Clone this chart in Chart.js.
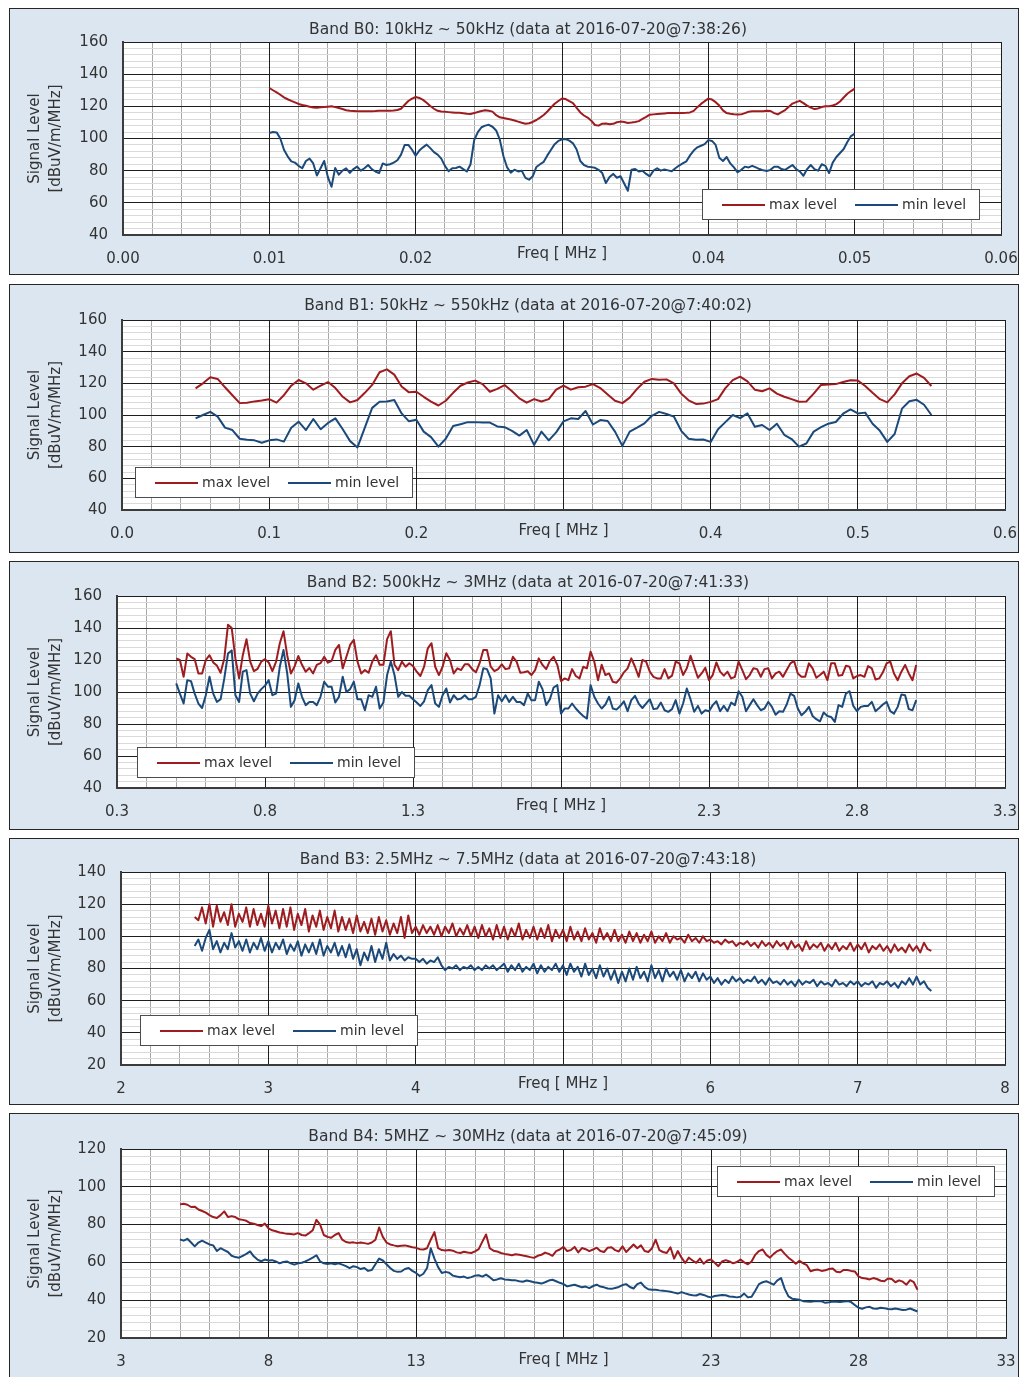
<!DOCTYPE html>
<html>
<head>
<meta charset="utf-8">
<script src="https://cdn.jsdelivr.net/npm/chart.js@4.4.1/dist/chart.umd.min.js"></script>
<style>
  body { margin: 0; background: #fff; width: 1019px; height: 1377px; overflow: hidden; position: relative; }
  .panel { position: absolute; left: 9px; width: 1008px; border: 1px solid #262626; background: #dce6f1; }
  .panel canvas { display: block; }
</style>
</head>
<body>
<div class="panel" style="top:8px;height:265px"><canvas id="bandB0" width="1008" height="265"></canvas></div>
<div class="panel" style="top:284px;height:267px"><canvas id="bandB1" width="1008" height="267"></canvas></div>
<div class="panel" style="top:561px;height:267px"><canvas id="bandB2" width="1008" height="267"></canvas></div>
<div class="panel" style="top:838px;height:265px"><canvas id="bandB3" width="1008" height="265"></canvas></div>
<div class="panel" style="top:1113px;height:265px"><canvas id="bandB4" width="1008" height="265"></canvas></div>

<script>
// Field strength sweeps, signal level in dBuV/m/MHz, one sample per sweep step

// Band B0: 10kHz ~ 50kHz
const b0Title = "Band B0: 10kHz ~ 50kHz (data at 2016-07-20@7:38:26)"
const b0Start = 0.01
const b0Step = 0.00025
const b0Max = [
  131.4, 130, 128.7, 127.2, 125.6, 124.4, 123.4, 122.5, 121.5, 120.8,
  120.3, 119.8, 119.3, 119.1, 119.4, 119.6, 119.8, 120, 119.5, 119,
  118.3, 117.6, 117.3, 117.1, 116.9, 116.9, 116.9, 116.9, 117, 117.1,
  117.3, 117.3, 117.3, 117.3, 117.4, 117.7, 118.5, 121, 123.3, 124.8,
  125.8, 125.2, 124, 122.2, 120.2, 118.5, 117.2, 116.8, 116.6, 116.4,
  116.2, 116, 116, 115.7, 115.4, 115.2, 115.8, 116.5, 117.1, 117.5,
  117.2, 116.7, 114.5, 113.2, 112.8, 112.3, 111.8, 111.2, 110.5, 109.8,
  109.2, 109.5, 110.3, 111.5, 113, 114.6, 116.8, 119.3, 121.6, 123.3,
  124.9, 124.5, 123.2, 122, 119.1, 116.2, 114.3, 113, 111.1, 108.4,
  108, 109.2, 109.3, 108.8, 109.1, 110.1, 110.5, 110.2, 109.7, 109.9,
  110.3, 110.8, 112.2, 113.4, 114.8, 115, 115.2, 115.4, 115.6, 115.8,
  115.9, 115.9, 115.9, 115.9, 116, 116.2, 117.2, 119.5, 121.5, 123.2,
  124.8, 124.2, 122.6, 120.5, 117.5, 115.8, 115.4, 115.1, 114.9, 115,
  115.8, 116.6, 116.9, 116.9, 116.9, 117, 117.3, 117.1, 115.8, 115,
  116.4, 117.7, 119.8, 121.7, 122.6, 123.4, 122, 120.4, 119.2, 118.3,
  118.7, 119.6, 120, 120, 120.5, 121.4, 123, 125.5, 127.8, 129.5,
  131,
]
const b0Min = [
  103.4, 104, 103.8, 100, 93, 88.9, 85.8, 85, 83, 81.5,
  86, 87.5, 84.5, 77, 81.5, 86, 76, 70, 81.7, 77.5,
  80, 81.5, 78.6, 81, 82.5, 80, 81.5, 83.5, 81, 79.5,
  78.5, 84.5, 83.5, 84, 85, 86.5, 90, 96, 96, 93,
  89.3, 92.5, 94.5, 96.2, 94, 91.5, 90, 87.5, 83, 79.6,
  81.5, 81.7, 82.5, 81, 79.5, 84, 99, 104, 107, 108,
  108.5, 107.3, 105, 99.3, 89, 82, 78.8, 80.6, 79.5, 80,
  75.5, 74.4, 76.5, 82.3, 84, 85.5, 89.5, 93, 96.5, 98.5,
  99.5, 99.7, 98.7, 97, 93.2, 86, 83.5, 82.5, 82.2, 81.8,
  80.5, 78.5, 72.3, 76, 78, 75.6, 76.5, 72, 67.5, 80.6,
  81, 79.5, 80, 78, 76.5, 80, 81.5, 80, 80.8, 80.2,
  79.6, 81.5, 83.2, 84.5, 85.8, 89.5, 92.5, 94.5, 95.5, 96.5,
  99, 98.5, 96, 88, 86, 88.5, 84.5, 82, 79, 80.5,
  82.5, 82, 83, 82, 81, 80.2, 79.8, 80.5, 82.5, 82.5,
  81, 80.5, 82, 83.5, 81, 79.5, 76.8, 81, 83.5, 81,
  80, 84, 83, 78.5, 85, 88.5, 91, 93.5, 97.8, 101.5,
  103,
]
const b0XLabels = ["0.00", "0.01", "0.02", "", "0.04", "0.05", "0.06"]
const b0YLabels = ["40", "60", "80", "100", "120", "140", "160"]

// Band B1: 50kHz ~ 550kHz
const b1Title = "Band B1: 50kHz ~ 550kHz (data at 2016-07-20@7:40:02)"
const b1Start = 0.05
const b1Step = 0.005
const b1Max = [
  116.8, 120, 123.8, 122.8, 117.5, 112.5, 107.5, 107.8, 108.6, 109.2,
  110, 107.8, 112.5, 118.5, 122.1, 120, 116, 118.5, 120.8, 117,
  111.5, 108, 109.5, 114, 119, 127, 128.8, 125.5, 118, 114.3,
  114.7, 111.5, 108.5, 106, 109, 114, 118.5, 120.5, 121.7, 119.5,
  114.7, 116.5, 118.9, 115, 110.5, 107.8, 110, 108.5, 110, 116,
  118.6, 116, 117.5, 117.9, 119.5, 117, 113, 109, 107.5, 111,
  116.5, 121, 122.8, 122.3, 122.5, 120, 113.5, 109.3, 107, 107.2,
  108.3, 110, 117, 122, 124.2, 121.2, 116, 115, 116.8, 113.5,
  111.5, 110, 108.4, 108.5, 113.5, 119, 119.2, 119.5, 120.8, 122,
  121.8, 118.3, 114, 110, 108, 113, 120, 124.5, 126.2, 123.5,
  118.3,
]
const b1Min = [
  97.9, 100, 102, 99, 92, 90.5, 85, 84.4, 84, 82.5,
  84, 84.6, 83.2, 92, 95.8, 90.5, 97.5, 91, 95, 97.9,
  91, 83.5, 79.5, 92, 104.5, 108.4, 108.5, 109.5, 101, 96,
  97, 89.5, 86, 80, 85, 93, 94.2, 95.5, 95.5, 95.2,
  95.2, 92.8, 92.3, 90, 87, 90.5, 81.1, 89.5, 84, 89,
  96, 97.9, 97.5, 102.5, 94, 96.8, 96.2, 89.5, 80.5, 89.5,
  92, 94.7, 99.5, 102, 100.6, 99, 90, 85, 84.3, 84.5,
  83, 91, 95.5, 100, 98, 101, 92.6, 93.7, 90.5, 94.5,
  87.5, 84.8, 80, 82, 89.5, 92.3, 94.5, 95.6, 100.8, 103.5,
  101, 101.5, 94.5, 90, 83, 88, 104, 108.7, 109.6, 106.5,
  100,
]
const b1XLabels = ["0.0", "0.1", "0.2", "", "0.4", "0.5", "0.6"]
const b1YLabels = ["40", "60", "80", "100", "120", "140", "160"]

// Band B2: 500kHz ~ 3MHz
const b2Title = "Band B2: 500kHz ~ 3MHz (data at 2016-07-20@7:41:33)"
const b2Start = 0.5
const b2Step = 0.0125
const b2Max = [
  121, 120, 109.5, 124, 122, 120.5, 111.6, 111.6, 120, 123,
  118.5, 116.5, 112, 121, 142, 140, 121, 108.5, 123, 133,
  119, 113, 114.5, 119, 120.5, 118.5, 113, 119, 130.5, 138,
  123, 111.6, 116, 122.5, 117, 112.7, 115, 111.6, 117, 118,
  122, 118.3, 119.4, 126.3, 129.4, 114.8, 122, 129.4, 132.6, 119,
  111.6, 113.7, 112, 119, 123, 117, 117, 133, 138, 117,
  113.7, 119, 115.8, 118, 116.2, 112.7, 110, 115.8, 127.3, 130.5,
  115.8, 110.6, 115.8, 124.2, 120, 111.6, 114.8, 113.7, 117.3, 117.3,
  114.3, 112.3, 118, 126.3, 126.3, 115.8, 113, 114.3, 117.3, 114.3,
  114.8, 122, 119, 112, 112.3, 113, 110.6, 113.7, 121, 116.9,
  114.3, 119.4, 122, 117, 106.8, 108.5, 107.4, 114.3, 110, 108.5,
  115.8, 114.8, 125.2, 119, 107.4, 117, 110.6, 111.6, 106.4, 105.8,
  108.5, 112.3, 114.8, 121, 115.8, 109.5, 120, 119, 112.7, 109.5,
  108.5, 108.5, 114.3, 108.5, 110.2, 119, 117.9, 110.6, 114.8, 122.7,
  115.8, 108.9, 111.6, 115.2, 107.4, 110.6, 118.5, 112.7, 110.2, 112.7,
  108.5, 109.5, 119, 113.7, 108, 110.6, 114.8, 114.3, 109.5, 114.3,
  114.8, 108.5, 111.6, 112.7, 109.5, 113.7, 117.9, 119.4, 111.6, 109.5,
  109.5, 117.9, 114.8, 108.9, 110.6, 112.7, 107.4, 117.9, 117.9, 110.2,
  110.6, 116.4, 115.8, 108.5, 110, 110.6, 109.5, 116.2, 114.8, 107.8,
  108.5, 112.3, 117.9, 119, 111.6, 107.4, 112.7, 116.9, 111.6, 107.4,
  116.9,
]
const b2Min = [
  105.4, 99, 92.8, 107.4, 106.8, 99, 92.8, 90, 98, 109.5,
  99, 93.8, 95.5, 108.5, 124, 126, 98, 93.8, 112.7, 113.7,
  99, 94.2, 99, 101.8, 104, 107.4, 98, 99, 115.8, 126.3,
  111.6, 90.7, 94.9, 105.4, 97, 91.8, 93.8, 93.8, 91.8, 97,
  106.4, 103.3, 103.3, 93.4, 97, 109.5, 100, 101.8, 106.4, 95.5,
  95.5, 88.6, 98, 97, 103.3, 89.7, 93.4, 110.6, 119, 110.6,
  97, 100, 97.6, 97.6, 95.5, 93.4, 91.3, 94.2, 101.2, 104.3,
  92.8, 90.7, 98, 102.2, 93.4, 98, 95.3, 95.9, 98, 95.5,
  95.5, 97, 104.3, 114.8, 114.3, 108.5, 86.5, 98, 94.2, 98,
  93.8, 97, 93.8, 93.8, 91.8, 99, 94.9, 94.9, 106.4, 101.8,
  91.8, 95.5, 102.8, 104.3, 86.5, 89.7, 89.7, 92.8, 89.7, 87.2,
  85, 83.4, 104.3, 97, 92.8, 89.7, 92.2, 97, 89.7, 89,
  91.2, 94.2, 88, 94.9, 97.6, 92.8, 90, 92.8, 95.5, 89.3,
  89.7, 93.4, 88.6, 87.6, 89.3, 94.9, 86.5, 92.8, 102.2, 95.5,
  87.6, 91.3, 86.5, 88.6, 88, 91.8, 94.2, 88, 91.3, 88,
  93.4, 91.8, 100.5, 97, 88, 91.8, 95.5, 91.8, 88.6, 89.7,
  93.8, 90.7, 85.8, 88, 87.6, 92.2, 99, 97.6, 89.7, 85.5,
  87.6, 90.7, 85, 83, 81.7, 87.2, 85, 84.4, 81.3, 91.8,
  90.7, 99, 100.5, 91.3, 88, 90.7, 91.3, 91.3, 93.8, 88,
  90, 92.2, 93.8, 88, 86.5, 90.7, 98.4, 98, 89.3, 88.6,
  94.9,
]
const b2XLabels = ["0.3", "0.8", "1.3", "", "2.3", "2.8", "3.3"]
const b2YLabels = ["40", "60", "80", "100", "120", "140", "160"]

// Band B3: 2.5MHz ~ 7.5MHz
const b3Title = "Band B3: 2.5MHz ~ 7.5MHz (data at 2016-07-20@7:43:18)"
const b3Start = 2.5
const b3Step = 0.025
const b3Max = [
  112, 110, 118, 108, 120, 106, 119, 109, 115, 107,
  120, 106, 114, 109, 118, 106, 117, 107, 114, 106,
  119, 108, 116, 105, 117, 106, 118, 104, 114, 107,
  117, 103, 113, 106, 116, 104, 112, 105, 116, 103,
  112, 104, 111, 102, 113, 103, 109, 102, 111, 101,
  112, 103, 110, 101, 108, 102, 112, 99, 113, 102,
  106, 101, 107, 102, 106, 101, 107, 100, 106, 102,
  108, 100, 105, 101, 107, 100, 106, 99, 107, 100,
  105, 98, 107, 99, 106, 98, 105, 100, 108, 98,
  104, 99, 106, 98, 105, 99, 107, 97, 104, 99,
  104, 97, 106, 98, 103, 97, 105, 98, 102, 96,
  105, 98, 102, 97, 104, 97, 101, 96, 103, 97,
  102, 96, 101, 97, 103, 96, 100, 97, 102, 96,
  100, 98, 99, 96, 101, 97, 99, 96, 100, 97,
  98, 96, 97, 95, 98, 96, 97, 94, 96, 95,
  97, 94, 96, 93, 97, 94, 96, 93, 97, 94,
  96, 92, 97, 93, 95, 91, 97, 92, 95, 93,
  96, 91, 95, 92, 96, 91, 94, 92, 96, 91,
  95, 92, 96, 90, 94, 92, 95, 91, 94, 90,
  95, 91, 93, 90, 95, 91, 94, 90, 96, 92,
  91,
]
const b3Min = [
  94, 98, 91, 99, 104, 92, 97, 90, 96, 92,
  102, 93, 97, 91, 98, 90, 96, 92, 99, 91,
  97, 90, 96, 92, 98, 89, 95, 91, 97, 88,
  95, 90, 96, 89, 98, 88, 94, 90, 96, 88,
  94, 87, 95, 86, 92, 82, 90, 85, 94, 84,
  92, 86, 96, 85, 89, 86, 88, 85, 87, 86,
  86, 84, 86, 83, 85, 84, 87, 82, 79, 81,
  80, 82, 79, 81, 80, 82, 79, 81, 79, 82,
  80, 82, 79, 81, 83, 78, 82, 79, 83, 78,
  81, 79, 83, 77, 82, 78, 81, 79, 83, 78,
  82, 76, 83, 78, 81, 75, 83, 76, 80, 74,
  82, 75, 80, 73, 79, 71, 78, 72, 80, 73,
  81, 74, 78, 72, 82, 74, 79, 72, 80, 75,
  78, 73, 79, 72, 77, 74, 78, 72, 77, 73,
  75, 71, 74, 70, 73, 71, 75, 72, 74, 71,
  73, 72, 75, 71, 73, 70, 74, 71, 72, 70,
  73, 70, 72, 69, 73, 70, 72, 71, 73, 69,
  72, 70, 71, 69, 73, 70, 71, 69, 72, 70,
  72, 69, 71, 70, 72, 68, 71, 70, 72, 69,
  71, 68, 72, 70, 74, 70, 75, 70, 72, 68,
  66,
]
const b3XLabels = ["2", "3", "4", "", "6", "7", "8"]
const b3YLabels = ["20", "40", "60", "80", "100", "120", "140"]

// Band B4: 5MHZ ~ 30MHz
const b4Title = "Band B4: 5MHZ ~ 30MHz (data at 2016-07-20@7:45:09)"
const b4Start = 5
const b4Step = 0.125
const b4Max = [
  90.7, 91, 90.5, 89.3, 89.5, 88, 87.2, 86.3, 85, 84,
  83.5, 85, 87, 84, 84.5, 84, 82.8, 82.5, 82, 80.8,
  80.5, 79.8, 79.2, 80.5, 78, 77, 76.5, 75.8, 75.5, 75.1,
  75, 74.8, 75.5, 74.5, 74.2, 75.5, 77, 82.5, 80, 74.5,
  73.5, 73, 74.5, 75.5, 72, 70.8, 70.4, 70.6, 70.2, 70.5,
  70.2, 69.8, 70.5, 72, 78.5, 73.5, 70.5, 69.5, 69, 68.6,
  68.8, 69, 68.5, 68, 67.7, 67, 66.8, 67.5, 72, 76,
  67.5, 66.5, 66.3, 66.6, 66.2, 65.3, 65, 65.6, 65.2, 65,
  65.8, 67, 71, 74.8, 67.5, 66.2, 65.8, 65, 64.5, 64.2,
  63.8, 64.3, 64, 63.6, 63.3, 62.8, 62.4, 63.5, 64, 65.2,
  64.5, 63.5, 66, 66.8, 68.2, 66, 66.5, 68.2, 65.3, 67.6,
  67, 66, 66.8, 67.8, 66, 65.5, 67.8, 68, 66.5, 65.8,
  68.5, 65.5, 67.5, 69.5, 67.5, 69, 66, 65.5, 67.5, 72,
  66.5, 65.5, 65, 68, 62, 66, 62.5, 59.7, 62.5, 61,
  59.8, 62, 59.3, 61, 61.5, 59.8, 58, 60.5, 61.2, 60.5,
  59.5, 60.2, 61.5, 60, 59, 60.5, 64, 66, 66.8, 64,
  62.5, 64.5, 66, 66.8, 64.5, 62.5, 61, 59.3, 60.8, 59.5,
  58.5, 55.3, 56, 56.2, 55.5, 55.8, 56.5, 56.8, 55, 54.8,
  56, 56, 55.5, 55.2, 52.6, 51.7, 51.5, 51, 51.7, 51.2,
  50.3, 50, 51.5, 51.2, 49.5, 50.5, 49.8, 48.2, 50.6, 49.5,
  45.5,
]
const b4Min = [
  72.1, 71.5, 72.5, 70.5, 68.5, 70.5, 71.5, 70.5, 69.5, 69,
  66, 67.5, 66.5, 65.5, 63.5, 62.8, 62.5, 63.5, 64.5, 65.8,
  63.2, 61.5, 60.6, 61.5, 61, 61.2, 60.5, 59.5, 60.2, 60.5,
  59.5, 58.8, 59.5, 59.8, 60.5, 61.5, 62.5, 63.8, 60.5, 59.5,
  59.2, 59.5, 59, 59.5, 58.8, 58, 57, 58, 57.5, 56.5,
  57, 55.5, 56, 59, 62, 61, 59, 57, 55.5, 55,
  55.2, 56.5, 57, 55.5, 54.4, 52.8, 54, 57, 67.5, 62,
  57.5, 54.4, 55, 54.5, 53, 52.5, 52.2, 52.5, 51.7, 52.2,
  53, 53.2, 52.5, 53.5, 52.2, 50.5, 51, 51.6, 51, 50.8,
  50.5, 50.5, 50, 49.8, 50.4, 50, 49.5, 49.2, 48.8, 49.5,
  50.4, 50.8, 50, 49.2, 48.5, 47.3, 47.8, 48.2, 47.5, 46.8,
  47.2, 46.4, 47.5, 48.2, 47.2, 46.8, 46.2, 46, 46.5, 47,
  48, 48.5, 47, 46.2, 48.5, 49.3, 47, 45.8, 45.5, 45.5,
  45.2, 45, 44.8, 44.5, 44, 43.5, 44.3, 43.6, 43, 42.6,
  42.5, 43.3, 42.8, 42, 41.5, 42.2, 42.5, 42.8, 42.6, 42,
  41.8, 41.5, 41.8, 43.5, 41.5, 41.8, 45, 48.5, 49.5, 50,
  49.2, 48.2, 50.5, 51.7, 46, 42, 40.8, 40.5, 40.2, 39.5,
  39.3, 39.2, 39.5, 39.6, 39.4, 38.6, 38.9, 39.3, 39.2, 39,
  39.3, 39.5, 39, 37.5, 36, 35.5, 36.2, 36.5, 35.6, 35.5,
  36, 35.8, 35.3, 35.2, 35.6, 35.2, 34.8, 35, 35.6, 34.8,
  34,
]
const b4XLabels = ["3", "8", "13", "", "23", "28", "33"]
const b4YLabels = ["20", "40", "60", "80", "100", "120"]

const seriesNames = ["max level", "min level"]
const seriesColors = ["#9e1c1f", "#1b4a7a"]

// Axis ranges plus where each plot sits inside its panel
const bands = [
  {
    id: "bandB0", title: b0Title, start: b0Start, step: b0Step, levels: [b0Max, b0Min],
    x: { min: 0, max: 0.06, minor: 0.002, major: 0.01, labels: b0XLabels },
    y: { min: 40, max: 160, labels: b0YLabels },
    frame: { padLeft: 45, padRight: 17, yWidth: 68, xHeight: 39, titleTop: 11.7, titleBottom: 2.7, freqBottom: 11 },
    legend: { left: 579, top: 147 },
  },
  {
    id: "bandB1", title: b1Title, start: b1Start, step: b1Step, levels: [b1Max, b1Min],
    x: { min: 0, max: 0.6, minor: 0.02, major: 0.1, labels: b1XLabels },
    y: { min: 40, max: 160, labels: b1YLabels },
    frame: { padLeft: 41, padRight: 13, yWidth: 71, xHeight: 42, titleTop: 11.7, titleBottom: 4.7, freqBottom: 12 },
    legend: { left: 13, top: 147 },
  },
  {
    id: "bandB2", title: b2Title, start: b2Start, step: b2Step, levels: [b2Max, b2Min],
    x: { min: 0.3, max: 3.3, minor: 0.1, major: 0.5, labels: b2XLabels },
    y: { min: 40, max: 160, labels: b2YLabels },
    frame: { padLeft: 41, padRight: 13, yWidth: 66, xHeight: 41, titleTop: 11.7, titleBottom: 3.7, freqBottom: 14 },
    legend: { left: 20, top: 151 },
  },
  {
    id: "bandB3", title: b3Title, start: b3Start, step: b3Step, levels: [b3Max, b3Min],
    x: { min: 2, max: 8, minor: 0.2, major: 1, labels: b3XLabels },
    y: { min: 20, max: 140, labels: b3YLabels },
    frame: { padLeft: 41, padRight: 13, yWidth: 70, xHeight: 39, titleTop: 11.7, titleBottom: 2.7, freqBottom: 11 },
    legend: { left: 19, top: 143 },
  },
  {
    id: "bandB4", title: b4Title, start: b4Start, step: b4Step, levels: [b4Max, b4Min],
    x: { min: 3, max: 33, minor: 1, major: 5, labels: b4XLabels },
    y: { min: 20, max: 120, labels: b4YLabels },
    frame: { padLeft: 40, padRight: 12, yWidth: 71, xHeight: 41, titleTop: 13.7, titleBottom: 2.7, freqBottom: 10 },
    legend: { left: 596, top: 17 },
  },
]

Chart.defaults.font.family = "'DejaVu Sans', sans-serif"
Chart.defaults.color = "#333"

// white plot area on top of the blue panel
const plotBackground = {
  id: "plotBackground",
  beforeDraw(chart) {
    const { ctx, chartArea } = chart
    ctx.save()
    ctx.fillStyle = "#fff"
    ctx.fillRect(chartArea.left, chartArea.top, chartArea.right - chartArea.left, chartArea.bottom - chartArea.top)
    ctx.restore()
  },
}

// boxed legend sitting inside the plot
const boxLegend = {
  id: "boxLegend",
  afterDatasetsDraw(chart, args, opts) {
    const { ctx, chartArea } = chart
    const x = Math.round(chartArea.left + opts.left)
    const y = Math.round(chartArea.top + opts.top)
    ctx.save()
    ctx.fillStyle = "#fff"
    ctx.fillRect(x, y, 277, 30)
    ctx.strokeStyle = "#4d4d4d"
    ctx.lineWidth = 1
    ctx.strokeRect(x + 0.5, y + 0.5, 277, 30)
    ctx.font = "14px 'DejaVu Sans'"
    ctx.textBaseline = "middle"
    chart.data.datasets.forEach((ds, i) => {
      const lx = x + 20 + i * 133
      ctx.strokeStyle = ds.borderColor
      ctx.lineWidth = 2
      ctx.beginPath()
      ctx.moveTo(lx, y + 16)
      ctx.lineTo(lx + 43, y + 16)
      ctx.stroke()
      ctx.fillStyle = "#333"
      ctx.fillText(ds.label, lx + 47, y + 16)
    })
    ctx.restore()
  },
}

function majorIndex(value, min, major) {
  const k = (value - min) / major
  return Math.abs(k - Math.round(k)) < 1e-6 ? Math.round(k) : -1
}

function buildBand(band) {
  const freq = band.levels[0].map((_, i) => +(band.start + i * band.step).toFixed(6))
  const datasets = band.levels.map((level, s) => ({
    label: seriesNames[s],
    data: level.map((v, i) => ({ x: freq[i], y: v })),
    borderColor: seriesColors[s],
    borderWidth: 2,
    borderJoinStyle: "round",
    pointRadius: 0,
    tension: 0,
  }))

  const ctx = document.getElementById(band.id).getContext("2d")
  return new Chart(ctx, {
    type: "line",
    data: { datasets },
    plugins: [plotBackground, boxLegend],
    options: {
      responsive: false,
      animation: false,
      parsing: false,
      layout: { padding: { left: band.frame.padLeft, right: band.frame.padRight, top: 0, bottom: 0 } },
      plugins: {
        legend: { display: false },
        tooltip: { enabled: false },
        title: {
          display: true,
          text: band.title,
          color: "#333",
          font: { size: 15.5, weight: "normal" },
          padding: { top: band.frame.titleTop, bottom: band.frame.titleBottom },
        },
        boxLegend: band.legend,
      },
      scales: {
        // minor grid, tick labels and axis title
        x: {
          type: "linear",
          min: band.x.min,
          max: band.x.max,
          afterFit: (scale) => {
            scale.height = band.frame.xHeight
            scale.paddingLeft = 0
            scale.paddingRight = 0
          },
          border: { color: "#3c3c3c", width: 2 },
          grid: { drawTicks: false, color: "#a8a8a8", z: -2 },
          ticks: {
            stepSize: band.x.minor,
            autoSkip: false,
            maxRotation: 0,
            padding: 15,
            font: { size: 15 },
            callback: (value) => {
              const k = majorIndex(value, band.x.min, band.x.major)
              return k >= 0 ? band.x.labels[k] : ""
            },
          },
          title: {
            display: true,
            text: "Freq [ MHz ]",
            color: "#333",
            font: { size: 15 },
            padding: { top: 0, bottom: band.frame.freqBottom },
          },
        },
        // major grid drawn over the minor one
        xMajor: {
          type: "linear",
          position: "bottom",
          min: band.x.min,
          max: band.x.max,
          afterFit: (scale) => {
            scale.height = 0
            scale.paddingLeft = 0
            scale.paddingRight = 0
          },
          border: { display: false },
          grid: { drawTicks: false, color: "#1e1e1e", z: -1 },
          ticks: { display: false, stepSize: band.x.major },
        },
        y: {
          min: band.y.min,
          max: band.y.max,
          afterFit: (scale) => { scale.width = band.frame.yWidth },
          border: { color: "#3c3c3c", width: 2 },
          grid: { drawTicks: false, color: "#dadada", z: -2 },
          ticks: {
            stepSize: 4,
            autoSkip: false,
            padding: 15,
            font: { size: 15 },
            callback: (value) => {
              const k = majorIndex(value, band.y.min, 20)
              return k >= 0 ? band.y.labels[k] : ""
            },
          },
          title: {
            display: true,
            text: ["Signal Level", "[dBuV/m/MHz]"],
            color: "#333",
            font: { size: 15, lineHeight: 1.4 },
            padding: { top: 14.5 - band.frame.padLeft, bottom: 0 },
          },
        },
        yMajor: {
          position: "left",
          min: band.y.min,
          max: band.y.max,
          afterFit: (scale) => { scale.width = 0 },
          border: { display: false },
          grid: { drawTicks: false, color: "#1e1e1e", z: -1 },
          ticks: { display: false, stepSize: 20 },
        },
      },
    },
  })
}

const charts = bands.map(buildBand)
</script>
</body>
</html>
